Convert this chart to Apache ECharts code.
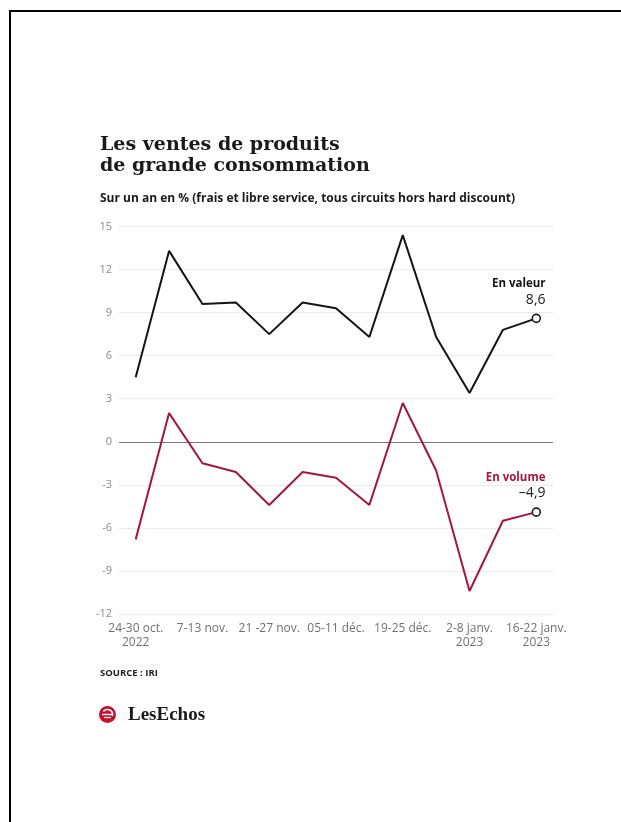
<!DOCTYPE html>
<html>
<head>
<meta charset="utf-8">
<script src="https://cdn.jsdelivr.net/npm/echarts@6/dist/echarts.min.js"></script>
<style>
  html, body { margin: 0; padding: 0; background: #fff; }
  #chart { width: 621px; height: 822px; }
</style>
</head>
<body>
<div id="chart"></div>
<script>
// Weekly year-on-year change of FMCG sales (%), source IRI
const weeks = [
  '24-30 oct.\n2022', '31 oct.-6 nov.', '7-13 nov.', '14-20 nov.',
  '21 -27 nov.', '28 nov.-4 déc.', '05-11 déc.', '12-18 déc.',
  '19-25 déc.', '26 déc.-1 janv.', '2-8 janv.\n2023', '9-15 janv.',
  '16-22 janv.\n2023'
];
const enValeur = [4.5, 13.3, 9.6, 9.7, 7.5, 9.7, 9.3, 7.3, 14.4, 7.3, 3.4, 7.8, 8.6];
const enVolume = [-6.8, 2.0, -1.5, -2.1, -4.4, -2.1, -2.5, -4.4, 2.7, -2.0, -10.4, -5.5, -4.9];
const yTicks = { min: -12, max: 15, step: 3 };

const BLACK = '#141414';
const RED = '#a3173f';
const SANS = '"Open Sans", Roboto, sans-serif';

const fmt = v => (v < 0 ? '\u2013' : '') + Math.abs(v).toFixed(1).replace('.', ',');

// Only the latest week carries an open marker and a label
function withEndMarker(values, color, name) {
  return values.map((v, i) => {
    if (i !== values.length - 1) return v;
    return {
      value: v,
      symbol: 'circle',
      symbolSize: 8,
      itemStyle: { color: '#fff', borderColor: '#1e1e1e', borderWidth: 1.6 },
      label: {
        show: true,
        position: [14, -6],
        align: 'right',
        verticalAlign: 'bottom',
        formatter: p => '{n|' + name + '}\n{v|' + fmt(p.value) + '}',
        rich: {
          n: { fontFamily: SANS, fontWeight: 'bold', fontSize: 11.5, color: color, lineHeight: 15, align: 'right' },
          v: { fontFamily: SANS, fontSize: 14, color: '#222', lineHeight: 16, align: 'right' }
        }
      }
    };
  });
}

const chart = echarts.init(document.getElementById('chart'), null, { renderer: 'canvas' });

chart.setOption({
  backgroundColor: '#fff',
  animation: false,
  grid: { left: 119, right: 68, top: 226.5, bottom: 208 },
  xAxis: {
    type: 'category',
    data: weeks,
    boundaryGap: true,
    axisLine: { show: false },
    axisTick: { show: false },
    axisLabel: {
      interval: 1,
      margin: 8,
      fontFamily: SANS,
      fontSize: 12,
      lineHeight: 14,
      color: '#707070'
    }
  },
  yAxis: {
    type: 'value',
    min: yTicks.min,
    max: yTicks.max,
    interval: yTicks.step,
    axisLine: { show: false },
    axisTick: { show: false },
    splitLine: { lineStyle: { color: '#ececec', width: 1 } },
    axisLabel: {
      margin: 7,
      fontFamily: SANS,
      fontSize: 11,
      color: '#8a8a8a'
    }
  },
  series: [
    {
      name: 'En valeur',
      type: 'line',
      data: withEndMarker(enValeur, BLACK, 'En valeur'),
      symbol: 'none',
      showSymbol: true,
      lineStyle: { color: BLACK, width: 2 },
      itemStyle: { color: BLACK },
      z: 3
    },
    {
      name: 'En volume',
      type: 'line',
      data: withEndMarker(enVolume, RED, 'En volume'),
      symbol: 'none',
      showSymbol: true,
      lineStyle: { color: RED, width: 2 },
      itemStyle: { color: RED },
      z: 3,
      markLine: {
        silent: true,
        symbol: 'none',
        label: { show: false },
        lineStyle: { color: '#777', width: 1, type: 'solid' },
        data: [{ yAxis: 0 }],
        z: 1
      }
    }
  ],
  graphic: [
    // frame edges
    { type: 'rect', shape: { x: 9, y: 10, width: 612, height: 2 }, style: { fill: '#000' } },
    { type: 'rect', shape: { x: 9, y: 10, width: 2, height: 812 }, style: { fill: '#000' } },
    // title
    {
      type: 'text', left: 100, top: 135,
      style: {
        text: 'Les ventes de produits\nde grande consommation',
        fontFamily: 'DejaVu Serif', fontWeight: 'bold', fontSize: 19, lineHeight: 21,
        fill: '#1a1a1a'
      }
    },
    // subtitle
    {
      type: 'text', left: 100, top: 193,
      style: {
        text: 'Sur un an en % (frais et libre service, tous circuits hors hard discount)',
        fontFamily: SANS, fontWeight: 'bold', fontSize: 12, fill: '#1a1a1a'
      }
    },
    // source
    {
      type: 'text', left: 100, top: 668,
      style: {
        text: 'SOURCE : IRI',
        fontFamily: SANS, fontWeight: 'bold', fontSize: 9.5, fill: '#222'
      }
    },
    // Les Echos logo
    {
      type: 'group', left: 99, top: 706,
      children: [
        { type: 'circle', shape: { cx: 8.5, cy: 8.5, r: 8.5 }, style: { fill: '#c8102e' } },
        { type: 'arc', shape: { cx: 8.5, cy: 8.5, r: 5, startAngle: -Math.PI * 0.8, endAngle: Math.PI * 0.1 }, style: { stroke: '#fff', lineWidth: 1.6, fill: null } },
        { type: 'line', shape: { x1: 3, y1: 8.5, x2: 13, y2: 8.5 }, style: { stroke: '#fff', lineWidth: 1.4 } },
        { type: 'line', shape: { x1: 5, y1: 11.5, x2: 12, y2: 11.5 }, style: { stroke: '#fff', lineWidth: 1.2 } },
        {
          type: 'text', x: 29, y: 0,
          style: {
            text: 'LesEchos',
            fontFamily: 'Liberation Serif', fontWeight: 'bold', fontSize: 19, fill: '#1a1a1a'
          }
        }
      ]
    }
  ]
});
</script>
</body>
</html>
